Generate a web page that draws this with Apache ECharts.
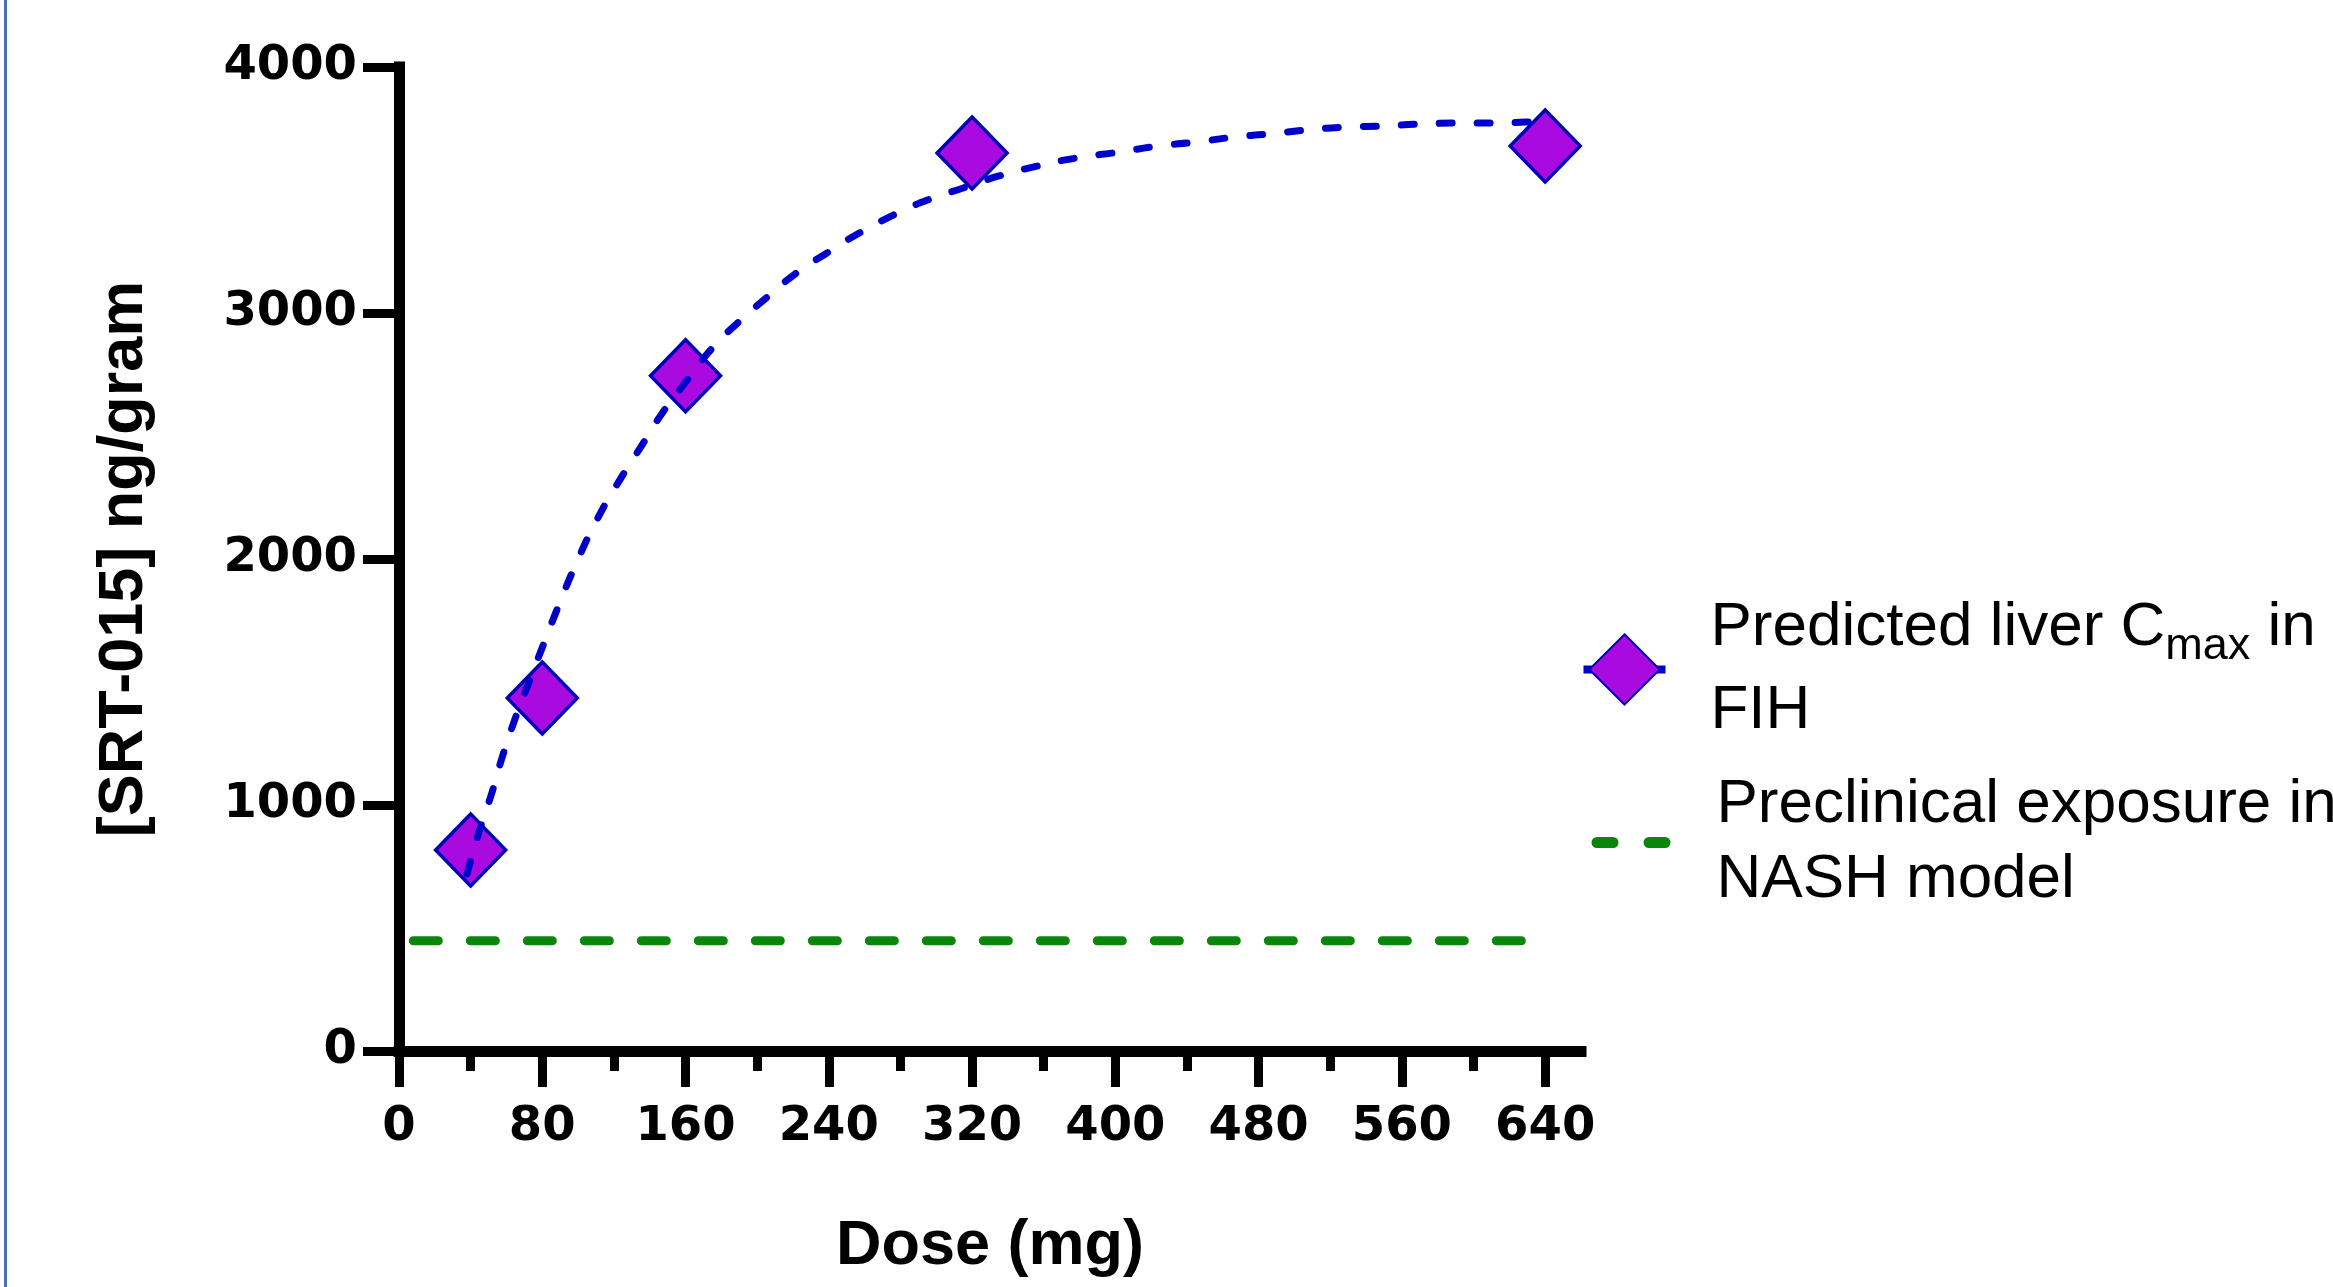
<!DOCTYPE html>
<html>
<head>
<meta charset="utf-8">
<script src="https://cdn.jsdelivr.net/npm/echarts@6/dist/echarts.min.js"></script>
<style>
  html, body { margin: 0; padding: 0; background: #fff; }
  #chart { width: 2333px; height: 1287px; }
</style>
</head>
<body>
<div id="chart"></div>
<script>
// measured points (dose mg -> liver conc ng/g)
const doseValues = [40, 80, 160, 320, 640]
const predictedCmax = [817, 1435, 2745, 3650, 3679]

// fitted curve
const fitDose = [38, 45, 52, 58, 65, 72, 80, 88, 100, 112, 124, 135, 147, 161, 175, 189, 205, 222, 239, 257, 276, 295, 315, 335, 355, 378, 402, 424, 445, 466, 486, 507, 529, 549, 570, 591, 612, 629, 640]
const fitConc = [720, 898, 1053, 1203, 1354, 1488, 1640, 1790, 2000, 2180, 2330, 2455, 2593, 2728, 2858, 2959, 3061, 3163, 3244, 3325, 3398, 3459, 3508, 3557, 3595, 3630, 3654, 3679, 3695, 3715, 3728, 3744, 3756, 3760, 3768, 3772, 3772, 3776, 3777]

// preclinical exposure level
const nashDose = [8, 632]
const nashConc = [448, 448]

const xMajorTicks = [0, 80, 160, 240, 320, 400, 480, 560, 640]
const xMinorTicks = [40, 120, 200, 280, 360, 440, 520, 600]

const predName = 'Predicted liver Cmax in FIH'
const nashName = 'Preclinical exposure in NASH model'

function zip(xs, ys) {
  return xs.map((x, i) => [x, ys[i]])
}

const tickFont = { fontFamily: 'DejaVu Sans', fontWeight: 'bold', fontSize: 48, color: '#000' }
const nameFont = { fontFamily: 'Liberation Sans', fontWeight: 'bold', fontSize: 63, color: '#000' }
const legendFont = { fontFamily: 'Liberation Sans', fontSize: 62, color: '#000' }

const chart = echarts.init(document.getElementById('chart'))
chart.setOption({
  animation: false,
  backgroundColor: '#fff',
  graphic: [{
    type: 'rect',
    left: 4,
    top: 0,
    shape: { width: 3, height: 1287 },
    style: { fill: '#4A6FB5' }
  }],
  grid: { left: 399, right: 752, top: 67, bottom: 236 },
  legend: {
    orient: 'vertical',
    left: 1578,
    top: 597,
    padding: 0,
    itemWidth: 82,
    itemHeight: 88,
    itemGap: 32,
    selectedMode: false,
    data: [
      { name: predName, lineStyle: { color: '#0000CC', width: 8, type: 'solid', opacity: 1 } },
      {
        name: nashName,
        itemStyle: { opacity: 0 },
        lineStyle: { color: '#0A870A', width: 11, type: [16, 36], dashOffset: 38.5, cap: 'round', opacity: 1 }
      }
    ],
    formatter(name) {
      if (name === predName) {
        return '{a|Predicted liver C}{s|max}{a| in}\n{a|FIH}'
      }
      return '{b|Preclinical exposure in}\n{b|NASH model}'
    },
    textStyle: {
      padding: [0, 0, 0, 40],
      rich: {
        a: Object.assign({ lineHeight: 83 }, legendFont),
        b: Object.assign({ lineHeight: 75, padding: [0, 0, 0, 6] }, legendFont),
        s: { fontFamily: 'Liberation Sans', fontSize: 45, lineHeight: 44, verticalAlign: 'bottom', color: '#000' }
      }
    }
  },
  xAxis: [
    {
      type: 'value',
      min: 0,
      max: 660,
      name: 'Dose (mg)',
      nameLocation: 'middle',
      nameGap: 164,
      nameTextStyle: nameFont,
      axisLine: { onZero: false, lineStyle: { color: '#000', width: 11, cap: 'square' } },
      axisTick: { customValues: xMajorTicks, length: 36, lineStyle: { color: '#000', width: 9 } },
      axisLabel: Object.assign({ customValues: xMajorTicks, margin: 53 }, tickFont),
      splitLine: { show: false }
    },
    {
      type: 'value',
      min: 0,
      max: 660,
      position: 'bottom',
      axisLine: { show: false, onZero: false },
      axisTick: { customValues: xMinorTicks, length: 20, lineStyle: { color: '#000', width: 9 } },
      axisLabel: { show: false },
      splitLine: { show: false }
    }
  ],
  yAxis: {
    type: 'value',
    min: 0,
    max: 4000,
    interval: 1000,
    name: '[SRT-015] ng/gram',
    nameLocation: 'middle',
    nameGap: 243,
    nameTextStyle: nameFont,
    axisLine: { show: true, lineStyle: { color: '#000', width: 11, cap: 'square' } },
    axisTick: { show: true, length: 36, lineStyle: { color: '#000', width: 9 } },
    axisLabel: Object.assign({ margin: 42, formatter: v => String(v) }, tickFont),
    splitLine: { show: false }
  },
  series: [
    {
      name: predName,
      type: 'line',
      data: zip(doseValues, predictedCmax),
      symbol: 'diamond',
      symbolSize: [70, 72],
      showSymbol: true,
      lineStyle: { width: 0, opacity: 0 },
      itemStyle: { color: '#A90AE0', borderColor: '#0000B8', borderWidth: 3.5 },
      z: 2
    },
    {
      name: 'fit',
      type: 'line',
      data: zip(fitDose, fitConc),
      smooth: true,
      symbol: 'none',
      lineStyle: { color: '#0000CC', width: 7, type: [13, 25], cap: 'round' },
      z: 3
    },
    {
      name: nashName,
      type: 'line',
      data: zip(nashDose, nashConc),
      symbol: 'none',
      lineStyle: { color: '#0A870A', width: 9, type: [25, 32], cap: 'round' },
      z: 2
    }
  ]
})
</script>
</body>
</html>
